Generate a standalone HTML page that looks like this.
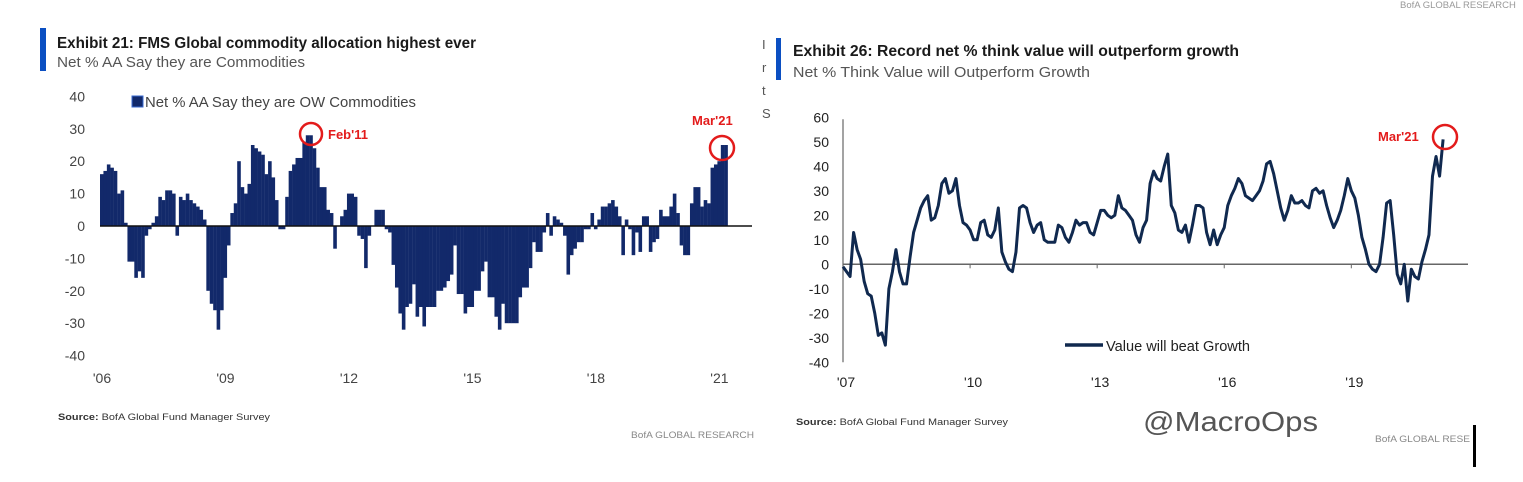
<!DOCTYPE html>
<html><head><meta charset="utf-8"><style>
html,body{margin:0;padding:0;background:#fff;width:1523px;height:482px;overflow:hidden}
svg{display:block;font-family:"Liberation Sans",Arial,sans-serif}
</style></head><body>
<svg id="root" width="1523" height="482" viewBox="0 0 1523 482">
<g id="left">
  <rect x="40" y="28" width="6" height="43" fill="#0b4fc2"/>
  <text x="57" y="48" font-size="15.5" font-weight="bold" fill="#1a1a1a" textLength="419" lengthAdjust="spacingAndGlyphs">Exhibit 21: FMS Global commodity allocation highest ever</text>
  <text x="57" y="67" font-size="14.5" fill="#555" textLength="248" lengthAdjust="spacingAndGlyphs">Net % AA Say they are Commodities</text>
  <rect x="132" y="96" width="11" height="11" fill="#12296a" stroke="#3a6ad0" stroke-width="1"/>
  <text x="145" y="107" font-size="14.5" fill="#444" textLength="271" lengthAdjust="spacingAndGlyphs">Net % AA Say they are OW Commodities</text>
  <g id="lbars"></g>
  <g id="lyt"></g>
  <g id="lxt"></g>
  <circle cx="311" cy="134" r="11" fill="none" stroke="#e31b1b" stroke-width="2.5"/>
  <text x="328" y="139" font-size="13" font-weight="bold" fill="#e31b1b">Feb'11</text>
  <circle cx="722" cy="148" r="12" fill="none" stroke="#e31b1b" stroke-width="2.5"/>
  <text x="692" y="125" font-size="13" font-weight="bold" fill="#e31b1b">Mar'21</text>
  <text x="58" y="420" font-size="9.5" fill="#333" textLength="212" lengthAdjust="spacingAndGlyphs"><tspan font-weight="bold">Source:</tspan>  BofA Global Fund Manager Survey</text>
  <text x="631" y="438" font-size="9.5" fill="#888" textLength="123" lengthAdjust="spacingAndGlyphs">BofA GLOBAL RESEARCH</text>
</g>
<g>
  <text x="762" y="49" font-size="13" fill="#555">I</text>
  <text x="762" y="72" font-size="13" fill="#555">r</text>
  <text x="762" y="95" font-size="13" fill="#555">t</text>
  <text x="762" y="118" font-size="13" fill="#555">S</text>
  <text x="1400" y="8" font-size="9.5" fill="#999">BofA GLOBAL RESEARCH</text>
</g>
<g id="right">
  <rect x="776" y="38" width="5" height="42" fill="#0b4fc2"/>
  <text x="793" y="56" font-size="15.5" font-weight="bold" fill="#1a1a1a" textLength="446" lengthAdjust="spacingAndGlyphs">Exhibit 26: Record net % think value will outperform growth</text>
  <text x="793" y="77" font-size="14.5" fill="#555" textLength="297" lengthAdjust="spacingAndGlyphs">Net % Think Value will Outperform Growth</text>
  <g id="ryt"></g>
  <g id="rxt"></g>
  <path id="rline" fill="none" stroke="#10294f" stroke-width="3" stroke-linejoin="round"/>
  <line x1="1065" y1="345" x2="1103" y2="345" stroke="#10294f" stroke-width="3.5"/>
  <text x="1106" y="351" font-size="15" fill="#222" textLength="144" lengthAdjust="spacingAndGlyphs">Value will beat Growth</text>
  <circle cx="1445" cy="137" r="12" fill="none" stroke="#e31b1b" stroke-width="2.5"/>
  <text x="1378" y="141" font-size="13" font-weight="bold" fill="#e31b1b">Mar'21</text>
  <text x="796" y="425" font-size="9.5" fill="#333" textLength="212" lengthAdjust="spacingAndGlyphs"><tspan font-weight="bold">Source:</tspan>  BofA Global Fund Manager Survey</text>
  <text x="1143" y="431" font-size="28" fill="#555" textLength="175" lengthAdjust="spacingAndGlyphs">@MacroOps</text>
  <text x="1375" y="442" font-size="9.5" fill="#888" textLength="95" lengthAdjust="spacingAndGlyphs">BofA GLOBAL RESE</text>
  <rect x="1473" y="425" width="3" height="42" fill="#000"/>
</g>
</svg>
<script>
const commodityValues = [16,17,19,18,17,10,11,1,-11,-11,-16,-14,
-16,-3,-1,1,3,9,8,11,11,10,-3,9,
8,10,8,7,6,5,2,-20,-24,-26,-32,-26,
-16,-6,4,7,20,12,10,13,25,24,23,22,
16,20,15,8,-1,-1,9,17,19,21,21,26,
28,28,24,18,12,12,5,4,-7,0,3,5,
10,10,9,-3,-4,-13,-3,0,5,5,5,-1,
-2,-12,-19,-27,-32,-25,-24,-18,-28,-25,-31,-25,
-25,-25,-20,-20,-19,-17,-15,-6,-21,-21,-27,-25,
-25,-20,-20,-14,-11,-22,-22,-28,-32,-24,-30,-30,
-30,-30,-22,-19,-19,-13,-5,-8,-8,-2,4,-3,
3,2,1,-3,-15,-9,-7,-5,-5,-1,-1,4,
-1,2,6,6,7,8,6,3,-9,2,-1,-9,
-2,-8,3,3,-8,-5,-4,5,3,3,6,10,
4,-6,-9,-9,7,12,12,6,8,7,18,19,20,25,25];
const leftYTicks = [40,30,20,10,0,-10,-20,-30,-40];
const leftXLabels = ["'06","'09","'12","'15","'18","'21"];
const leftXYears = [2006,2009,2012,2015,2018,2021];

const valueGrowth = [-1,-3,-5,13,6,2,-7,-12,-13,-20,-29,-28,
-33,-10,-3,6,-3,-8,-8,3,13,18,23,26,
28,18,19,24,33,35,29,30,35,24,17,16,
14,10,10,17,18,12,11,14,23,5,1,-2,
-3,5,23,24,23,17,13,16,17,10,9,9,
9,16,15,11,9,13,18,16,17,17,13,12,
17,22,22,20,19,20,28,23,22,20,18,12,
9,15,18,33,38,35,34,40,45,24,21,14,
13,16,9,16,24,24,23,13,8,14,8,12,
15,24,28,31,35,33,28,27,26,28,30,34,
41,42,37,30,23,18,22,28,25,25,26,24,
23,30,31,29,30,24,19,15,18,22,28,35,
30,27,20,11,6,0,-2,-3,0,11,25,26,
12,-4,-8,0,-15,-2,-5,-6,1,6,12,36,44,36,51];
const rightYTicks = [60,50,40,30,20,10,0,-10,-20,-30,-40];
const rightXLabels = ["'07","'10","'13","'16","'19"];
const rightXYears = [2007,2010,2013,2016,2019];

const NS="http://www.w3.org/2000/svg";
function mk(tag,attrs,parent){const e=document.createElementNS(NS,tag);for(const k in attrs)e.setAttribute(k,attrs[k]);parent.appendChild(e);return e;}

const lY = v => 226 - v*3.24;
const lX = m => 100 + m*3.43;
const lbars=document.getElementById('lbars');
commodityValues.forEach((v,i)=>{
  const y0=lY(0), y1=lY(v);
  const r=mk('rect',{x:lX(i).toFixed(2),y:Math.min(y0,y1).toFixed(2),width:3.6,height:Math.abs(y1-y0).toFixed(2),fill:'#12296a'},lbars);
  
  
});
const lz=mk('line',{x1:100,x2:752,y1:lY(0),y2:lY(0),stroke:'#111','stroke-width':1.5},lbars);


const lyt=document.getElementById('lyt');
leftYTicks.forEach(v=>{
  const t=mk('text',{x:85,y:lY(v)+5,'font-size':14,fill:'#444','text-anchor':'end'},lyt);
  t.textContent=v;
  
  
});
const lxt=document.getElementById('lxt');
leftXLabels.forEach((s,i)=>{
  const t=mk('text',{x:lX((leftXYears[i]-2006)*12)+2,y:383,'font-size':14,fill:'#444','text-anchor':'middle'},lxt);
  t.textContent=s;
  
  
});

const rY = v => 264.3 - v*2.45;
const rX = m => 843 + m*3.53;
const ryt=document.getElementById('ryt');
rightYTicks.forEach(v=>{
  const t=mk('text',{x:829,y:rY(v)+5,'font-size':14,fill:'#222','text-anchor':'end'},ryt);
  t.textContent=v;
  
  
});
const ra=mk('line',{x1:843,x2:843,y1:rY(60)+2,y2:rY(-40),stroke:'#666','stroke-width':1.2},ryt);


const rz=mk('line',{x1:843,x2:1468,y1:rY(0),y2:rY(0),stroke:'#666','stroke-width':1.5},ryt);


const rxt=document.getElementById('rxt');
rightXLabels.forEach((s,i)=>{
  const x=rX((rightXYears[i]-2007)*12);
  const tk=mk('line',{x1:x,x2:x,y1:rY(0),y2:rY(0)+4,stroke:'#666','stroke-width':1},rxt);
  
  
  const t=mk('text',{x:x+3,y:387,'font-size':14,fill:'#222','text-anchor':'middle'},rxt);
  t.textContent=s;
  
  
});
document.getElementById('rline').setAttribute('d',valueGrowth.map((v,i)=>(i?'L':'M')+rX(i).toFixed(2)+','+rY(v).toFixed(2)).join(''));
</script>
</body></html>
